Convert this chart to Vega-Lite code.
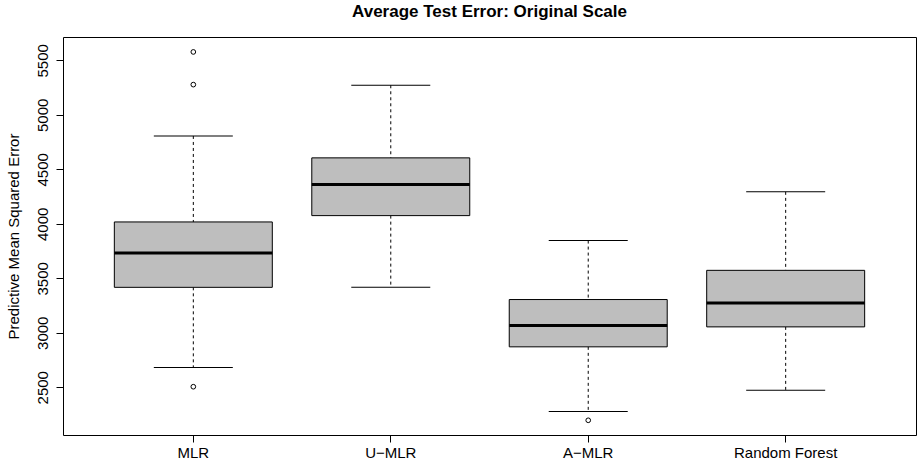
{
  "$schema": "https://vega.github.io/schema/vega-lite/v6.json",
  "width": 853,
  "height": 398,
  "autosize": "none",
  "padding": {"left": 63, "top": 37, "right": 1, "bottom": 34},
  "background": "white",
  "config": {
    "view": {"stroke": "black", "strokeWidth": 1},
    "font": "Liberation Sans"
  },
  "title": {
    "text": "Average Test Error: Original Scale",
    "font": "Liberation Sans",
    "fontSize": 17,
    "fontWeight": "bold",
    "color": "black",
    "anchor": "middle",
    "offset": 16
  },
  "datasets": {
    "stats": [
      {"method": "MLR", "lower": 2681, "q1": 3417, "median": 3733, "q3": 4017, "upper": 4806},
      {"method": "U\u2212MLR", "lower": 3417, "q1": 4075, "median": 4360, "q3": 4605, "upper": 5271},
      {"method": "A\u2212MLR", "lower": 2277, "q1": 2871, "median": 3066, "q3": 3305, "upper": 3846},
      {"method": "Random Forest", "lower": 2472, "q1": 3054, "median": 3274, "q3": 3573, "upper": 4293}
    ],
    "outliers": [
      {"method": "MLR", "value": 5577},
      {"method": "MLR", "value": 5277},
      {"method": "MLR", "value": 2505},
      {"method": "A\u2212MLR", "value": 2197}
    ]
  },
  "encoding": {
    "x": {
      "field": "method",
      "type": "nominal",
      "sort": ["MLR", "U\u2212MLR", "A\u2212MLR", "Random Forest"],
      "scale": {"type": "band", "paddingInner": 0.2, "paddingOuter": 0.26},
      "axis": {
        "title": null,
        "labelAngle": 0,
        "labelFontSize": 15,
        "labelColor": "black",
        "labelPadding": 3,
        "tickColor": "black",
        "tickSize": 7,
        "domain": false,
        "grid": false
      }
    }
  },
  "layer": [
    {
      "data": {"name": "stats"},
      "mark": {"type": "rule", "strokeDash": [3, 3], "color": "black", "strokeWidth": 1},
      "encoding": {
        "y": {
          "field": "upper",
          "type": "quantitative",
          "scale": {"domain": [2062, 5714], "nice": false, "zero": false},
          "axis": {
            "title": "Predictive Mean Squared Error",
            "titleFontSize": 15,
            "titleFontWeight": "normal",
            "titleColor": "black",
            "titlePadding": 14,
            "values": [2500, 3000, 3500, 4000, 4500, 5000, 5500],
            "format": "d",
            "labelAngle": 270,
            "labelAlign": "center",
            "labelBaseline": "bottom",
            "labelFontSize": 15,
            "labelColor": "black",
            "labelPadding": 6,
            "tickColor": "black",
            "tickSize": 7,
            "domain": false,
            "grid": false
          }
        },
        "y2": {"field": "q3"}
      }
    },
    {
      "data": {"name": "stats"},
      "mark": {"type": "rule", "strokeDash": [3, 3], "color": "black", "strokeWidth": 1},
      "encoding": {
        "y": {"field": "q1", "type": "quantitative"},
        "y2": {"field": "lower"}
      }
    },
    {
      "data": {"name": "stats"},
      "mark": {"type": "tick", "color": "black", "thickness": 1, "size": 79, "opacity": 1},
      "encoding": {"y": {"field": "upper", "type": "quantitative"}}
    },
    {
      "data": {"name": "stats"},
      "mark": {"type": "tick", "color": "black", "thickness": 1, "size": 79, "opacity": 1},
      "encoding": {"y": {"field": "lower", "type": "quantitative"}}
    },
    {
      "data": {"name": "stats"},
      "mark": {"type": "bar", "fill": "#bebebe", "stroke": "black", "strokeWidth": 1},
      "encoding": {
        "y": {"field": "q1", "type": "quantitative"},
        "y2": {"field": "q3"}
      }
    },
    {
      "data": {"name": "stats"},
      "mark": {"type": "tick", "color": "black", "thickness": 3, "size": 158, "opacity": 1},
      "encoding": {"y": {"field": "median", "type": "quantitative"}}
    },
    {
      "data": {"name": "outliers"},
      "mark": {"type": "point", "shape": "circle", "filled": false, "color": "black", "size": 22, "strokeWidth": 1, "opacity": 1},
      "encoding": {"y": {"field": "value", "type": "quantitative"}}
    }
  ]
}
